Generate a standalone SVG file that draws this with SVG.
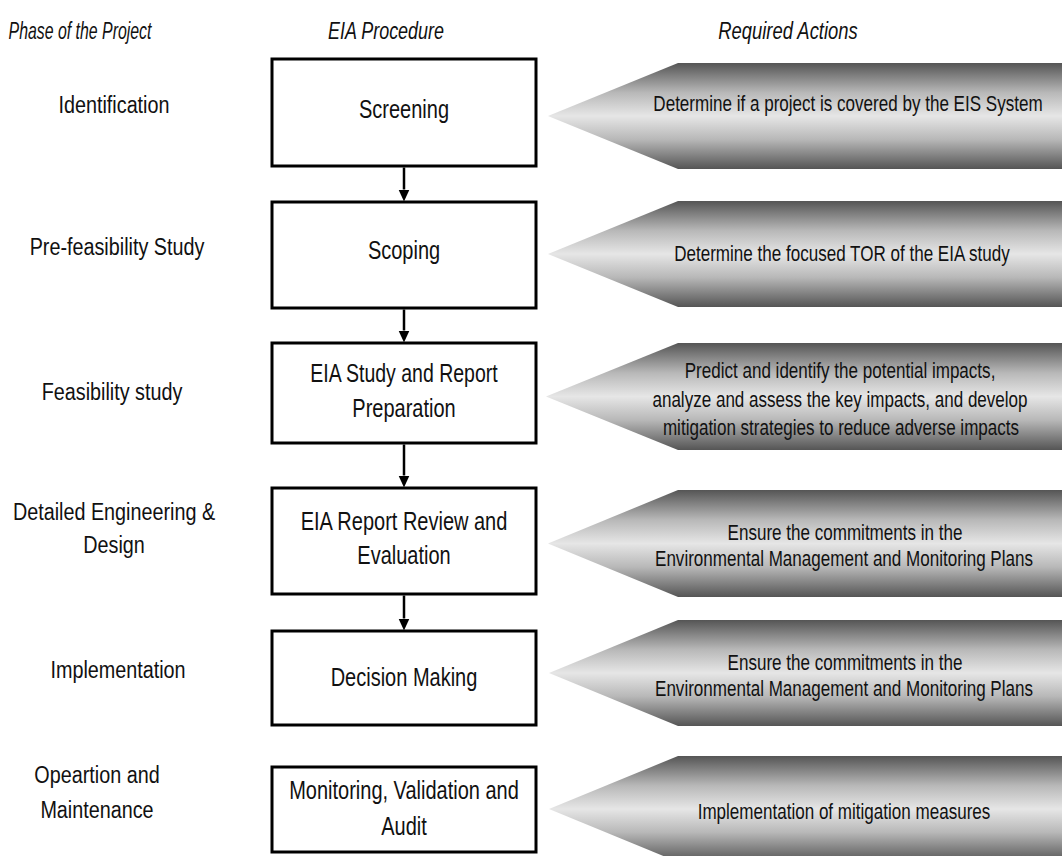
<svg xmlns="http://www.w3.org/2000/svg" width="1062" height="856" viewBox="0 0 1062 856">
<defs>
<linearGradient id="gr" x1="0" y1="0" x2="0" y2="1">
<stop offset="0" stop-color="#555"/>
<stop offset="0.28" stop-color="#b8b8b8"/>
<stop offset="0.5" stop-color="#e6e6e6"/>
<stop offset="0.72" stop-color="#b8b8b8"/>
<stop offset="1" stop-color="#555"/>
</linearGradient>
<marker id="ah" markerUnits="userSpaceOnUse" markerWidth="12" markerHeight="12" refX="0" refY="5.5" orient="auto">
<path d="M0,0 L12,5.5 L0,11 z" fill="#000"/>
</marker>
<style>
text{font-family:"Liberation Sans",Arial,sans-serif;fill:#111;text-anchor:middle}
.hd{font-size:23px;font-style:italic}
.lb{font-size:23px}
.bx{font-size:25px}
.ar{font-size:22px}
.box{fill:#fff;stroke:#000;stroke-width:3}
.arw{fill:url(#gr)}
.cn{stroke:#000;stroke-width:2.5;fill:none;marker-end:url(#ah)}
</style>
</defs>
<rect width="1062" height="856" fill="#fff"/>

<g id="headers">
<text class="hd" transform="translate(80,39) scale(0.69,1)">Phase of the Project</text>
<text class="hd" transform="translate(386,39) scale(0.78,1)">EIA Procedure</text>
<text class="hd" transform="translate(788,39) scale(0.8,1)">Required Actions</text>
</g>

<g id="phases">
<text class="lb" transform="translate(114,113) scale(0.86,1)">Identification</text>
<text class="lb" transform="translate(117,255) scale(0.86,1)">Pre-feasibility Study</text>
<text class="lb" transform="translate(112,400) scale(0.86,1)">Feasibility study</text>
<text class="lb" transform="translate(114,520) scale(0.86,1)">Detailed Engineering &amp;</text>
<text class="lb" transform="translate(114,553) scale(0.86,1)">Design</text>
<text class="lb" transform="translate(118,678) scale(0.86,1)">Implementation</text>
<text class="lb" transform="translate(97,783) scale(0.86,1)">Opeartion and</text>
<text class="lb" transform="translate(97,818) scale(0.86,1)">Maintenance</text>
</g>

<g id="actions">
<g id="act1">
<polygon class="arw" points="1064,63 678,63 548,116 678,169 1064,169"/>
<text class="ar" transform="translate(848,111) scale(0.775,1)">Determine if a project is covered by the EIS System</text>
</g>
<g id="act2">
<polygon class="arw" points="1064,201 678,201 548,254 678,307 1064,307"/>
<text class="ar" transform="translate(842,261) scale(0.775,1)">Determine the focused TOR of the EIA study</text>
</g>
<g id="act3">
<polygon class="arw" points="1064,343 678,343 546,396.5 678,450 1064,450"/>
<text class="ar" transform="translate(840,378) scale(0.775,1)">Predict and identify the potential impacts,</text>
<text class="ar" transform="translate(840,407) scale(0.775,1)">analyze and assess the key impacts, and develop</text>
<text class="ar" transform="translate(841,435) scale(0.775,1)">mitigation strategies to reduce adverse impacts</text>
</g>
<g id="act4">
<polygon class="arw" points="1064,490 678,490 548,543.5 678,597 1064,597"/>
<text class="ar" transform="translate(845,540) scale(0.775,1)">Ensure the commitments in the</text>
<text class="ar" transform="translate(844,566) scale(0.775,1)">Environmental Management and Monitoring Plans</text>
</g>
<g id="act5">
<polygon class="arw" points="1064,620 678,620 549,673 678,726 1064,726"/>
<text class="ar" transform="translate(845,670) scale(0.775,1)">Ensure the commitments in the</text>
<text class="ar" transform="translate(844,696) scale(0.775,1)">Environmental Management and Monitoring Plans</text>
</g>
<g id="act6">
<polygon class="arw" points="1064,756 678,756 549,809 678,862 1064,862"/>
<text class="ar" transform="translate(844,819) scale(0.775,1)">Implementation of mitigation measures</text>
</g>
</g>

<g id="connectors">
<path class="cn" d="M404,167.5 L404,189.5"/>
<path class="cn" d="M404,309.5 L404,330.5"/>
<path class="cn" d="M404,444.5 L404,475.5"/>
<path class="cn" d="M404,595.5 L404,618.5"/>
</g>

<g id="screening">
<rect class="box" x="272" y="59" width="264" height="107"/>
<text class="bx" transform="translate(404,118) scale(0.8,1)">Screening</text>
</g>
<g id="scoping">
<rect class="box" x="272" y="202" width="264" height="106"/>
<text class="bx" transform="translate(404,259) scale(0.8,1)">Scoping</text>
</g>
<g id="study">
<rect class="box" x="272" y="343" width="264" height="100"/>
<text class="bx" transform="translate(404,382) scale(0.78,1)">EIA Study and Report</text>
<text class="bx" transform="translate(404,417) scale(0.8,1)">Preparation</text>
</g>
<g id="review">
<rect class="box" x="272" y="488" width="264" height="106"/>
<text class="bx" transform="translate(404,530) scale(0.8,1)">EIA Report Review and</text>
<text class="bx" transform="translate(404,564) scale(0.8,1)">Evaluation</text>
</g>
<g id="decision">
<rect class="box" x="272" y="631" width="264" height="94"/>
<text class="bx" transform="translate(404,686) scale(0.8,1)">Decision Making</text>
</g>
<g id="monitoring">
<rect class="box" x="272" y="767" width="264" height="85"/>
<text class="bx" transform="translate(404,799) scale(0.8,1)">Monitoring, Validation and</text>
<text class="bx" transform="translate(404,835) scale(0.8,1)">Audit</text>
</g>
</svg>
